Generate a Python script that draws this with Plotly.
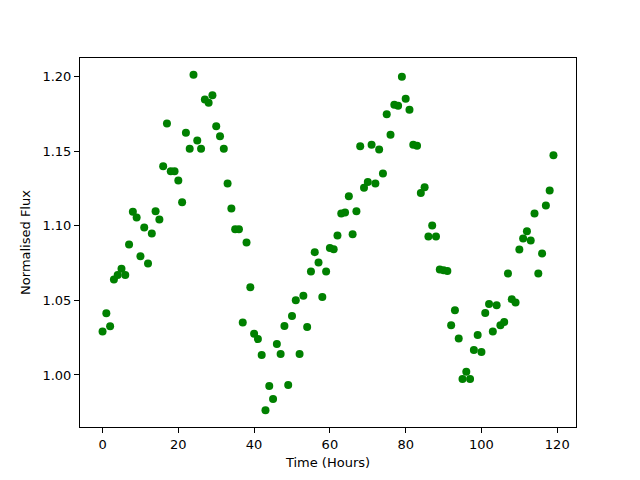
import plotly.graph_objects as go

hours = list(range(120))
flux = [
    1.0292, 1.0413, 1.0326, 1.0640, 1.0669, 1.0711, 1.0669, 1.0874, 1.1093, 1.1055,
    1.0796, 1.0988, 1.0747, 1.0948, 1.1097, 1.1041, 1.1398, 1.1684, 1.1365, 1.1365,
    1.1302, 1.1157, 1.1623, 1.1516, 1.2011, 1.1570, 1.1516, 1.1846, 1.1824, 1.1873,
    1.1666, 1.1599, 1.1516, 1.1282, 1.1115, 1.0977, 1.0977, 1.0352, 1.0888, 1.0587,
    1.0276, 1.0241, 1.0134, 0.9764, 0.9926, 0.9839, 1.0207, 1.0140, 1.0328, 0.9933,
    1.0395, 1.0500, 1.0140, 1.0530, 1.0321, 1.0694, 1.0823, 1.0754, 1.0522, 1.0694,
    1.0850, 1.0843, 1.0934, 1.1081, 1.1088, 1.1197, 1.0943, 1.1097, 1.1532, 1.1255,
    1.1293, 1.1543, 1.1282, 1.1510, 1.1349, 1.1746, 1.1610, 1.1811, 1.1804, 1.1998,
    1.1850, 1.1777, 1.1543, 1.1536, 1.1219, 1.1258, 1.0928, 1.1001, 1.0928, 1.0707,
    1.0701, 1.0696, 1.0334, 1.0433, 1.0245, 0.9973, 1.0022, 0.9973, 1.0167, 1.0268,
    1.0154, 1.0415, 1.0475, 1.0292, 1.0468, 1.0334, 1.0355, 1.0680, 1.0508, 1.0486,
    1.0841, 1.0914, 1.0963, 1.0901, 1.1081, 1.0680, 1.0814, 1.1135, 1.1235, 1.1472,
]
x_ticks = [0, 20, 40, 60, 80, 100, 120]
y_ticks = [1.00, 1.05, 1.10, 1.15, 1.20]

xmin, xmax = min(hours), max(hours)
ymin, ymax = min(flux), max(flux)
xpad = 0.05 * (xmax - xmin)
ypad = 0.05 * (ymax - ymin)

fig = go.Figure(go.Scatter(
    x=hours, y=flux, mode="markers",
    marker=dict(color="#008000", size=8, line=dict(width=0)),
))

axis_common = dict(
    showline=True, linecolor="black", linewidth=1, mirror=True,
    ticks="outside", ticklen=5, tickwidth=1, tickcolor="black",
    showgrid=False, zeroline=False,
    tickfont=dict(family="DejaVu Sans", size=13, color="black"),
)

fig.update_layout(
    width=640, height=480,
    margin=dict(l=72, r=72, t=50, b=61),
    paper_bgcolor="white", plot_bgcolor="white",
    showlegend=False,
    font=dict(family="DejaVu Sans", size=13, color="black"),
    xaxis=dict(
        range=[xmin - xpad, xmax + xpad],
        tickvals=x_ticks, ticktext=[str(v) for v in x_ticks],
        title=dict(text="Time (Hours)", font=dict(size=13), standoff=7),
        **axis_common,
    ),
    yaxis=dict(
        range=[ymin - ypad, ymax + ypad],
        tickvals=y_ticks, ticktext=[f"{v:.2f}" for v in y_ticks],
        title=dict(text="Normalised Flux", font=dict(size=13), standoff=8),
        **axis_common,
    ),
)

fig.write_html("out.html")
